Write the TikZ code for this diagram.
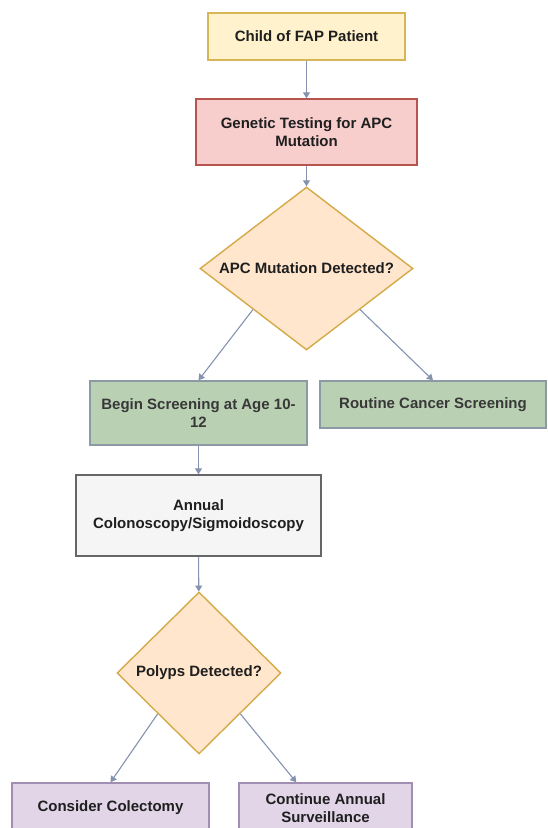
\documentclass[tikz,border=0pt]{standalone}
\usepackage{fontspec}
\setmainfont{Liberation Sans}
\usetikzlibrary{shapes.geometric,arrows.meta,calc}

\definecolor{yelfill}{HTML}{FFF2CC}
\definecolor{yeldraw}{HTML}{D6B656}
\definecolor{redfill}{HTML}{F8CECC}
\definecolor{reddraw}{HTML}{B85450}
\definecolor{orgfill}{HTML}{FFE6CC}
\definecolor{orgdraw}{HTML}{D4AA48}
\definecolor{grnfill}{HTML}{BAD0B3}
\definecolor{grndraw}{HTML}{8C9AA6}
\definecolor{gryfill}{HTML}{F5F5F5}
\definecolor{grydraw}{HTML}{666666}
\definecolor{prpfill}{HTML}{E1D5E7}
\definecolor{prpdraw}{HTML}{A08FB2}
\definecolor{arrowcol}{HTML}{8593AE}

\begin{document}
\begin{tikzpicture}[x=1pt,y=1pt,
    box/.style={draw,line width=1.4pt,inner sep=2pt,align=center,text=black!88,
      font=\fontsize{15}{18.5}\selectfont\bfseries},
    decision/.style={diamond,draw=orgdraw,fill=orgfill,line width=1.4pt,
      inner sep=0pt,text=black!88,font=\fontsize{15}{18.5}\selectfont\bfseries},
    flow/.style={draw=arrowcol,line width=1.1pt,-{Triangle[length=6pt,width=7pt]}}]
    \clip (0,0) rectangle (547,-828);
    % boxes
    \node[box,draw=yeldraw,fill=yelfill,minimum width=197pt,minimum height=47pt] (child) at (306.5,-36.5) {Child of FAP Patient};
    \node[box,draw=reddraw,fill=redfill,minimum width=221pt,minimum height=66pt] (gentest) at (306.5,-132) {Genetic Testing for APC\\Mutation};
    \node[decision,minimum width=213pt,minimum height=163pt] (apc) at (306.5,-268.5) {\makebox[0pt]{APC Mutation Detected?}};
    \node[box,draw=grndraw,fill=grnfill,text=black!78,minimum width=217pt,minimum height=64pt] (begin) at (198.5,-413) {Begin Screening at Age 10-\\12};
    \node[box,draw=grndraw,fill=grnfill,text=black!78,minimum width=226pt,minimum height=47pt] (routine) at (433,-404.5) {Routine Cancer Screening};
    \node[box,draw=grydraw,fill=gryfill,minimum width=245pt,minimum height=81pt] (annual) at (198.5,-515.5) {Annual\\Colonoscopy/Sigmoidoscopy};
    \node[decision,minimum width=164pt,minimum height=162pt] (polyps) at (199,-673) {\makebox[0pt]{Polyps Detected?}};
    \node[box,draw=prpdraw,fill=prpfill,minimum width=197pt,minimum height=50pt] (colect) at (110.5,-808) {Consider Colectomy};
    \node[box,draw=prpdraw,fill=prpfill,minimum width=173pt,minimum height=50pt] (contin) at (325.5,-808) {Continue Annual\\Surveillance};
    % connectors
    \draw[flow] (child) -- (gentest);
    \draw[flow] (gentest) -- (apc);
    \draw[flow] (apc.south west) -- (begin.north);
    \draw[flow] (apc.south east) -- (routine.north);
    \draw[flow] (begin) -- (annual);
    \draw[flow] (annual) -- (polyps);
    \draw[flow] (polyps.south west) -- (colect.north);
    \draw[flow] (polyps.south east) -- ($(contin.north west)+(58,0)$);
\end{tikzpicture}
\end{document}
